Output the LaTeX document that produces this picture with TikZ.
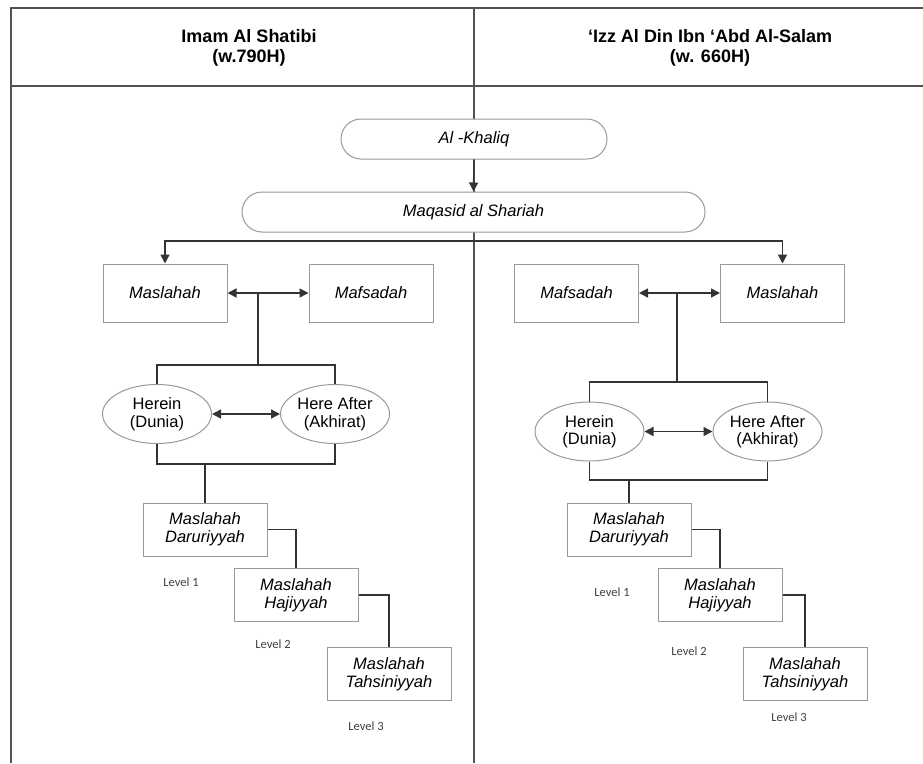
\documentclass[tikz,border=0pt]{standalone}
\usepackage{fontspec}
\setmainfont{Liberation Sans}
\newfontfamily\lvlfont{Carlito}
\usetikzlibrary{arrows.meta,shapes.geometric}
\begin{document}
\begin{tikzpicture}[x=1pt,y=-1pt,
 frame/.style={draw=black!68,line width=2pt},
 conn/.style={draw=black!80,line width=1.4pt},
 arr/.style={conn,-{Triangle[length=9pt,width=9pt]}},
 darr/.style={conn,{Triangle[length=9pt,width=9pt]}-{Triangle[length=9pt,width=9pt]}},
 box/.style={draw=black!40,line width=1pt,fill=white,minimum width=124pt,inner sep=0pt,font=\fontsize{16.5}{18}\selectfont\itshape,align=center},
 topbox/.style={box,minimum height=58pt},
 lowbox/.style={box,minimum height=53pt},
 pill/.style={draw=black!40,line width=1pt,fill=white,rounded corners=20pt,minimum height=40pt,inner sep=0pt,font=\fontsize{16.5}{18}\selectfont\itshape},
 oval/.style={ellipse,draw=black!40,line width=1pt,fill=white,minimum width=109pt,minimum height=59pt,inner sep=0pt,font=\fontsize{16.5}{17.5}\selectfont,align=center},
 lvl/.style={font=\lvlfont\fontsize{12.5}{14}\selectfont,text=black!75},
 head/.style={font=\bfseries\fontsize{18}{20}\selectfont,align=center}
]
\useasboundingbox (0,0) rectangle (923,763);
\begin{scope}
\clip (0,0) rectangle (923,763);
\draw[frame] (10.5,763) -- (10.5,7.5) -- (935,7.5);
\draw[frame] (10.5,86) -- (935,86);
\draw[frame] (473.5,7.5) -- (473.5,763);
\end{scope}

% headers
\node[head] (h1) at (249,48) {Imam Al Shatibi\\(w.790H)};
\node[head] (h2) at (710,48) {‘Izz Al Din Ibn ‘Abd Al-Salam\\(w. 660H)};

% top
\node[pill,minimum width=266pt] (khaliq) at (474,139) {Al -Khaliq};
\node[pill,minimum width=463pt] (maqasid) at (473.5,212) {Maqasid al Shariah};
\draw[arr] (khaliq.south) -- (maqasid.north);
\coordinate (br) at (473.5,241);

% left side
\node[topbox] (lMas) at (165,293) {Maslahah};
\node[topbox] (lMaf) at (371,293) {Mafsadah};
\coordinate (lJ) at (258,293);
\coordinate (lB1) at (258,365);
\node[oval] (lHere) at (157,414) {Herein\\(Dunia)};
\node[oval] (lAfter) at (335,414) {Here After\\(Akhirat)};
\node[lowbox] (lDar) at (205,529.5) {Maslahah\\Daruriyyah};
\node[lowbox] (lHaj) at (296,595) {Maslahah\\Hajiyyah};
\node[lowbox] (lTah) at (389,674) {Maslahah\\Tahsiniyyah};
\coordinate (lB2) at (205,464);
\node[lvl] (lL1) at (181,582) {Level 1};
\node[lvl] (lL2) at (273,644) {Level 2};
\node[lvl] (lL3) at (366,726) {Level 3};

% right side
\node[topbox] (rMaf) at (576.5,293) {Mafsadah};
\node[topbox] (rMas) at (782.5,293) {Maslahah};
\coordinate (rJ) at (677,293);
\coordinate (rB1) at (677,382);
\node[oval] (rHere) at (589.5,431.5) {Herein\\(Dunia)};
\node[oval] (rAfter) at (767.5,431.5) {Here After\\(Akhirat)};
\node[lowbox] (rDar) at (629,529.5) {Maslahah\\Daruriyyah};
\node[lowbox] (rHaj) at (720,595) {Maslahah\\Hajiyyah};
\node[lowbox] (rTah) at (805,674) {Maslahah\\Tahsiniyyah};
\coordinate (rB2) at (629,480);
\node[lvl] (rL1) at (612,592) {Level 1};
\node[lvl] (rL2) at (689,651) {Level 2};
\node[lvl] (rL3) at (789,717) {Level 3};

% connectors
\draw[arr] (br) -| (lMas.north);
\draw[arr] (br) -| (rMas.north);

\draw[arr] (lJ) -- (lMas.east);
\draw[arr] (lJ) -- (lMaf.west);
\draw[conn] (lJ) -- (lB1);
\draw[conn] (lHere.north) |- (lB1) -| (lAfter.north);
\draw[darr] (lHere.east) -- (lAfter.west);
\draw[conn] (lHere.south) |- (lB2) -| (lAfter.south);
\draw[conn] (lB2) -- (lDar.north);
\draw[conn] (lDar.east) -| (lHaj.north);
\draw[conn] (lHaj.east) -| (lTah.north);

\draw[arr] (rJ) -- (rMaf.east);
\draw[arr] (rJ) -- (rMas.west);
\draw[conn] (rJ) -- (rB1);
\draw[conn] (rHere.north) |- (rB1) -| (rAfter.north);
\draw[darr] (rHere.east) -- (rAfter.west);
\draw[conn] (rHere.south) |- (rB2) -| (rAfter.south);
\draw[conn] (rB2) -- (rDar.north);
\draw[conn] (rDar.east) -| (rHaj.north);
\draw[conn] (rHaj.east) -| (rTah.north);
\end{tikzpicture}
\end{document}
